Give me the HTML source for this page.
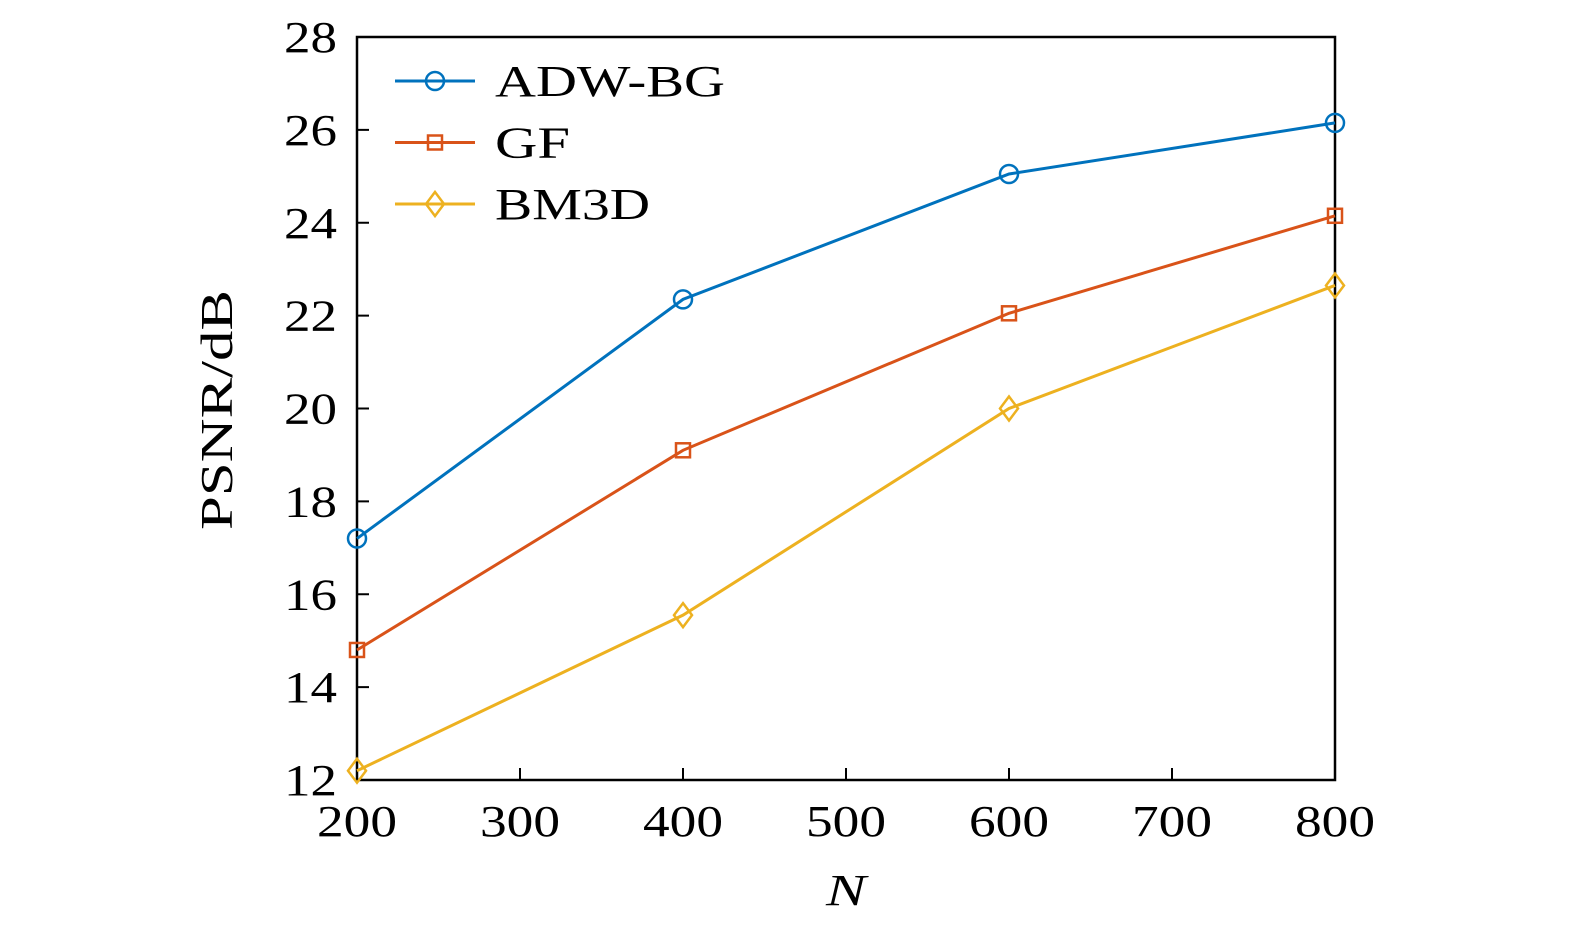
<!DOCTYPE html>
<html><head><meta charset="utf-8"><style>
html,body{margin:0;padding:0;background:#fff;}
svg text{font-family:"Liberation Serif",serif;fill:#000;}
</style></head><body>
<svg id="chart" width="1575" height="935" xmlns="http://www.w3.org/2000/svg">
<rect x="357" y="37" width="978" height="743" fill="none" stroke="#000" stroke-width="2.5"/>
<g id="ticks"></g>
<g id="series"></g>
<text x="846" y="905" font-size="44" font-style="italic" text-anchor="middle" textLength="40" lengthAdjust="spacingAndGlyphs">N</text>
<text transform="translate(232,410) rotate(-90)" font-size="46" text-anchor="middle" textLength="240" lengthAdjust="spacingAndGlyphs">PSNR/dB</text>
<g id="legend"></g>
</svg>
<script>
const categories=[200,400,600,800];
const adwbg=[17.2,22.35,25.05,26.15];
const gf=[14.8,19.1,22.05,24.15];
const bm3d=[12.2,15.55,20.0,22.65];
const xTicks=[200,300,400,500,600,700,800];
const yTicks=[12,14,16,18,20,22,24,26,28];
const seriesNames=["ADW-BG","GF","BM3D"];
const legendWidths=[230,75,155];
const NS="http://www.w3.org/2000/svg";
const X0=357,X1=1335,Y0=780,Y1=37;
const xs=v=>X0+(v-200)/600*(X1-X0);
const ys=v=>Y0-(v-12)/16*(Y0-Y1);
function mk(tag,attrs,parent){const e=document.createElementNS(NS,tag);for(const k in attrs)e.setAttribute(k,attrs[k]);parent.appendChild(e);return e;}
const tk=document.getElementById('ticks');
xTicks.forEach(v=>{
 const l=mk('line',{x1:xs(v),x2:xs(v),y1:Y0,y2:Y0-12,stroke:'#000','stroke-width':2},tk);
 
 
 const t=mk('text',{x:xs(v),y:836,'font-size':44,'text-anchor':'middle',textLength:80,lengthAdjust:'spacingAndGlyphs'},tk);t.textContent=v;
 
 
});
yTicks.forEach(v=>{
 const l=mk('line',{x1:X0,x2:X0+12,y1:ys(v),y2:ys(v),stroke:'#000','stroke-width':2},tk);
 
 
 const t=mk('text',{x:337,y:ys(v)+15,'font-size':44,'text-anchor':'end',textLength:53,lengthAdjust:'spacingAndGlyphs'},tk);t.textContent=v;
 
 
});
const colors=["#0072BD","#D95319","#EDB120"];
const data=[adwbg,gf,bm3d];
const sg=document.getElementById('series');
function marker(type,cx,cy,color,parent){
 let m;
 if(type==0)m=mk('circle',{cx:cx,cy:cy,r:9,fill:'none',stroke:color,'stroke-width':2.5},parent);
 else if(type==1)m=mk('rect',{x:cx-7,y:cy-7,width:14,height:14,fill:'none',stroke:color,'stroke-width':2.5},parent);
 else m=mk('polygon',{points:`${cx},${cy-12} ${cx+9},${cy} ${cx},${cy+12} ${cx-9},${cy}`,fill:'none',stroke:color,'stroke-width':2.5},parent);
 return m;
}
data.forEach((arr,i)=>{
 const p=mk('polyline',{points:arr.map((v,j)=>xs(categories[j])+','+ys(v)).join(' '),fill:'none',stroke:colors[i],'stroke-width':3},sg);
 
 
 arr.forEach((v,j)=>{
  const m=marker(i,xs(categories[j]),ys(v),colors[i],sg);
  
  
 });
});
const lg=document.getElementById('legend');
seriesNames.forEach((n,i)=>{
 const y=81+i*61.5;
 const l=mk('line',{x1:395,x2:475,y1:y,y2:y,stroke:colors[i],'stroke-width':3},lg);
 
 
 const m=marker(i,435,y,colors[i],lg);
 
 
 const t=mk('text',{x:495,y:y+15,'font-size':44,textLength:legendWidths[i],lengthAdjust:'spacingAndGlyphs'},lg);t.textContent=n;
 
 
});
</script>
</body></html>
